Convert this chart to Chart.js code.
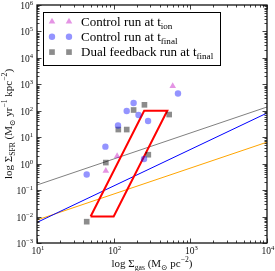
<!DOCTYPE html>
<html>
<head>
<meta charset="utf-8">
<script src="https://cdn.jsdelivr.net/npm/chart.js@4.4.0/dist/chart.umd.min.js"></script>
<style>
    html, body { margin: 0; padding: 0; background: #fff; }
    canvas { display: block; }
</style>
</head>
<body>
<canvas id="chart1" width="275" height="271"></canvas>
<script>
const ctx = document.getElementById("chart1").getContext("2d");
const serif = "'Liberation Serif', 'DejaVu Serif', serif";

// control run at t_ion
const ionGas = [79, 111, 589];
const ionSfr = [0.54, 1.95, 865];

// control run at t_final
const finalGas = [44.5, 78, 114, 148, 182, 211, 249, 281, 690];
const finalSfr = [0.39, 4.4, 27.7, 98, 197, 69, 1.5, 41, 450];

// dual feedback run at t_final
const dualGas = [44.5, 79, 115, 148, 182, 252, 283, 530];
const dualSfr = [0.0064, 1.1, 19.5, 19.5, 107, 168, 2.18, 72];

// reference relations, end points
const relGas = [10, 10000];
const kennicuttSfr = [0.006, 82];
const bigielSfr = [0.0074, 6.5];
const grayRelSfr = [0.156, 139];

// red region
const boxGas = [50, 100, 500, 250, 50];
const boxSfr = [0.01, 0.01, 100, 100, 0.01];

// tick exponents
const xExp = [1, 2, 3, 4];
const yExp = [-3, -2, -1, 0, 1, 2, 3, 4, 5, 6];

const pts = (xs, ys) => xs.map((x, i) => ({ x: x, y: ys[i] }));

const legendRows = [
    { ds: 0, parts: [{ t: "Control run at t" }, { t: "ion", sub: true }] },
    { ds: 1, parts: [{ t: "Control run at t" }, { t: "final", sub: true }] },
    { ds: 2, parts: [{ t: "Dual feedback run at t" }, { t: "final", sub: true }] },
];

function fontFor(p, size) {
    return (p.sub || p.sup ? size * 0.7 : size) + "px " + serif;
}

function richWidth(c, parts, size) {
    let w = 0;
    parts.forEach(p => { c.font = fontFor(p, size); w += c.measureText(p.t).width; });
    return w;
}

function drawRich(c, parts, x, y, size, align) {
    const w = richWidth(c, parts, size);
    let cx = align === "center" ? x - w / 2 : align === "right" ? x - w : x;
    c.textAlign = "left";
    c.textBaseline = "alphabetic";
    parts.forEach(p => {
        c.font = fontFor(p, size);
        const dy = p.sub ? size * 0.25 : p.sup ? -size * 0.42 : 0;
        c.fillText(p.t, cx, y + dy);
        cx += c.measureText(p.t).width;
    });
}

const powLabel = e => [{ t: "10" }, { t: String(e).replace("-", "\u2212"), sup: true }];

const decorPlugin = {
    id: "decor",
    afterDatasetsDraw(chart) {
        const c = chart.ctx;
        const a = chart.chartArea;
        const xs = chart.scales.x;
        const ys = chart.scales.y;
        c.save();
        c.strokeStyle = "#111";
        c.fillStyle = "#111";

        // inward ticks on all four sides
        c.lineWidth = 0.8;
        c.beginPath();
        for (let e = 1; e <= 4; e++) {
            for (let m = 1; m < 10; m++) {
                const v = m * Math.pow(10, e);
                if (v > 10000.1) continue;
                const p = Math.round(xs.getPixelForValue(v)) + 0.5;
                const len = m === 1 ? 4.5 : 2.5;
                c.moveTo(p, a.bottom); c.lineTo(p, a.bottom - len);
                c.moveTo(p, a.top); c.lineTo(p, a.top + len);
            }
        }
        for (let e = -3; e <= 6; e++) {
            for (let m = 1; m < 10; m++) {
                const v = m * Math.pow(10, e);
                if (v > 1.0001e6) continue;
                const p = Math.round(ys.getPixelForValue(v)) + 0.5;
                const len = m === 1 ? 4.5 : 2.5;
                c.moveTo(a.left, p); c.lineTo(a.left + len, p);
                c.moveTo(a.right, p); c.lineTo(a.right - len, p);
            }
        }
        c.stroke();

        // frame
        c.lineWidth = 1.3;
        c.strokeRect(a.left, a.top, a.right - a.left, a.bottom - a.top);

        // tick labels
        xExp.forEach(e => {
            drawRich(c, powLabel(e), xs.getPixelForValue(Math.pow(10, e)) + 1, a.bottom + 11, 9.5, "center");
        });
        yExp.forEach(e => {
            drawRich(c, powLabel(e), a.left - 4, ys.getPixelForValue(Math.pow(10, e)) + 4, 9.5, "right");
        });

        // axis titles
        drawRich(c, [
            { t: "log \u03A3" }, { t: "gas", sub: true }, { t: " (M" }, { t: "\u2299", sub: true },
            { t: " pc" }, { t: "\u22122", sup: true }, { t: ")" }
        ], (a.left + a.right) / 2, 267, 11, "center");

        c.save();
        c.translate(12, (a.top + a.bottom) / 2);
        c.rotate(-Math.PI / 2);
        drawRich(c, [
            { t: "log \u03A3" }, { t: "SFR", sub: true }, { t: " (M" }, { t: "\u2299", sub: true },
            { t: " yr" }, { t: "\u22121", sup: true }, { t: " kpc" }, { t: "\u22122", sup: true }, { t: ")" }
        ], 0, 0, 11, "center");
        c.restore();

        // legend
        c.fillStyle = "#fff";
        c.fillRect(43, 12, 177, 53);
        c.strokeStyle = "#000";
        c.lineWidth = 1;
        c.strokeRect(43.5, 12.5, 177, 53);
        legendRows.forEach((row, i) => {
            const ds = chart.data.datasets[row.ds];
            const y = 21.5 + i * 15.3;
            [52, 69].forEach(x => {
                c.fillStyle = ds.backgroundColor;
                Chart.helpers.drawPoint(c, {
                    pointStyle: ds.pointStyle, radius: ds.pointRadius, rotation: 0, borderWidth: 0
                }, x, y);
            });
            c.fillStyle = "#000";
            drawRich(c, row.parts, 81, y + 4, 13, "left");
        });
        c.restore();
    }
};

const chartdata = {
    datasets: [
        {
            label: "Control run at t_ion",
            data: pts(ionGas, ionSfr),
            pointStyle: "triangle",
            pointRadius: 3.8,
            backgroundColor: "rgba(191, 0, 191, 0.42)",
            borderWidth: 0,
        },
        {
            label: "Control run at t_final",
            data: pts(finalGas, finalSfr),
            pointStyle: "circle",
            pointRadius: 3.2,
            backgroundColor: "rgba(0, 0, 255, 0.42)",
            borderWidth: 0,
        },
        {
            label: "Dual feedback run at t_final",
            data: pts(dualGas, dualSfr),
            pointStyle: "rect",
            pointRadius: 4,
            backgroundColor: "rgba(0, 0, 0, 0.45)",
            borderWidth: 0,
        },
        {
            data: pts(boxGas, boxSfr),
            showLine: true,
            pointRadius: 0,
            borderColor: "#ff0000",
            borderWidth: 2,
            borderJoinStyle: "miter",
        },
        {
            data: pts(relGas, grayRelSfr),
            showLine: true,
            pointRadius: 0,
            borderColor: "#808080",
            borderWidth: 1,
        },
        {
            data: pts(relGas, kennicuttSfr),
            showLine: true,
            pointRadius: 0,
            borderColor: "#0000ff",
            borderWidth: 1,
        },
        {
            data: pts(relGas, bigielSfr),
            showLine: true,
            pointRadius: 0,
            borderColor: "#ffa500",
            borderWidth: 1,
        },
    ],
};

const config = {
    type: "scatter",
    data: chartdata,
    plugins: [decorPlugin],
    options: {
        responsive: false,
        animation: false,
        events: [],
        layout: { padding: { top: 5, right: 8, left: 0, bottom: 0 } },
        scales: {
            x: {
                type: "logarithmic",
                min: 10,
                max: 10000,
                ticks: { display: false },
                grid: { display: false },
                border: { display: false },
                afterFit: s => { s.height = 28; },
            },
            y: {
                type: "logarithmic",
                min: 0.001,
                max: 1000000,
                ticks: { display: false },
                grid: { display: false },
                border: { display: false },
                afterFit: s => { s.width = 37; },
            },
        },
        plugins: {
            legend: { display: false },
            tooltip: { enabled: false },
        },
    },
};

const newChart = new Chart(ctx, config);
</script>
</body>
</html>
